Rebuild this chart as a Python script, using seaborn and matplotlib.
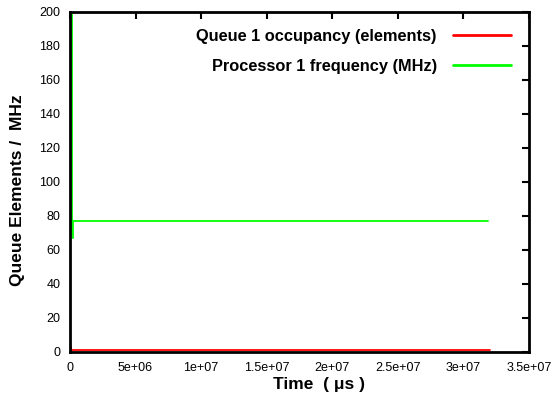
import matplotlib
matplotlib.use("Agg")
import matplotlib.pyplot as plt
import seaborn as sns
import pandas as pd

# Data
queue_time = [0, 1.0e5, 3.2e7]
queue_vals = [3, 1, 1]
freq_time = [0, 1.5e5, 2.5e5, 3.19e7]
freq_vals = [200, 67, 77, 77]
x_ticks = [0, 5e6, 1e7, 1.5e7, 2e7, 2.5e7, 3e7, 3.5e7]
x_tick_labels = ["0", "5e+06", "1e+07", "1.5e+07", "2e+07", "2.5e+07", "3e+07", "3.5e+07"]
y_ticks = [0, 20, 40, 60, 80, 100, 120, 140, 160, 180, 200]

sns.set_style("white")
plt.rcParams['font.family'] = ['Liberation Sans', 'DejaVu Sans']
plt.rcParams['text.color'] = 'black'
plt.rcParams['axes.labelcolor'] = 'black'

fig = plt.figure(figsize=(5.53, 3.99), dpi=100)
ax = fig.add_axes([70/553, 1-352/399, (529-70)/553, (352-12)/399])

dq = pd.DataFrame({"t": queue_time, "v": queue_vals})
df = pd.DataFrame({"t": freq_time, "v": freq_vals})
sns.lineplot(data=dq, x="t", y="v", ax=ax, color="#ff0000", lw=1.3,
             estimator=None, sort=False, drawstyle="steps-post",
             label="Queue 1 occupancy (elements)")
sns.lineplot(data=df, x="t", y="v", ax=ax, color="#00ff00", lw=1.3,
             estimator=None, sort=False, drawstyle="steps-post",
             label="Processor 1 frequency (MHz)")

ax.set_xlim(0, 3.5e7)
ax.set_ylim(0, 200)
ax.set_xticks(x_ticks)
ax.set_xticklabels(x_tick_labels)
ax.set_yticks(y_ticks)
ax.tick_params(direction="in", length=5, width=1.5, top=True, right=True,
               labelsize=9, pad=7, colors="black")
for sp in ax.spines.values():
    sp.set_linewidth(2)
    sp.set_color("black")

ax.set_xlabel("Time  ( \u03bcs )", fontsize=12.5, fontweight="bold",
              family=["Liberation Sans", "DejaVu Sans"])
ax.set_ylabel("Queue Elements /  MHz", fontsize=12.5, fontweight="bold",
              family=["Liberation Sans", "DejaVu Sans"])
ax.xaxis.set_label_coords(0.542, -0.074)
ax.yaxis.set_label_coords(-0.098, 0.476)

leg = ax.legend(loc="upper right", frameon=False, markerfirst=False,
                prop={"family": "Liberation Sans", "weight": "bold", "size": 11.8},
                handlelength=3.5, handletextpad=1.0, labelspacing=0.95,
                borderaxespad=0.3, bbox_to_anchor=(0.985, 0.985))
for h in leg.get_lines():
    h.set_linewidth(2)

fig.savefig("out.png", dpi=100)
